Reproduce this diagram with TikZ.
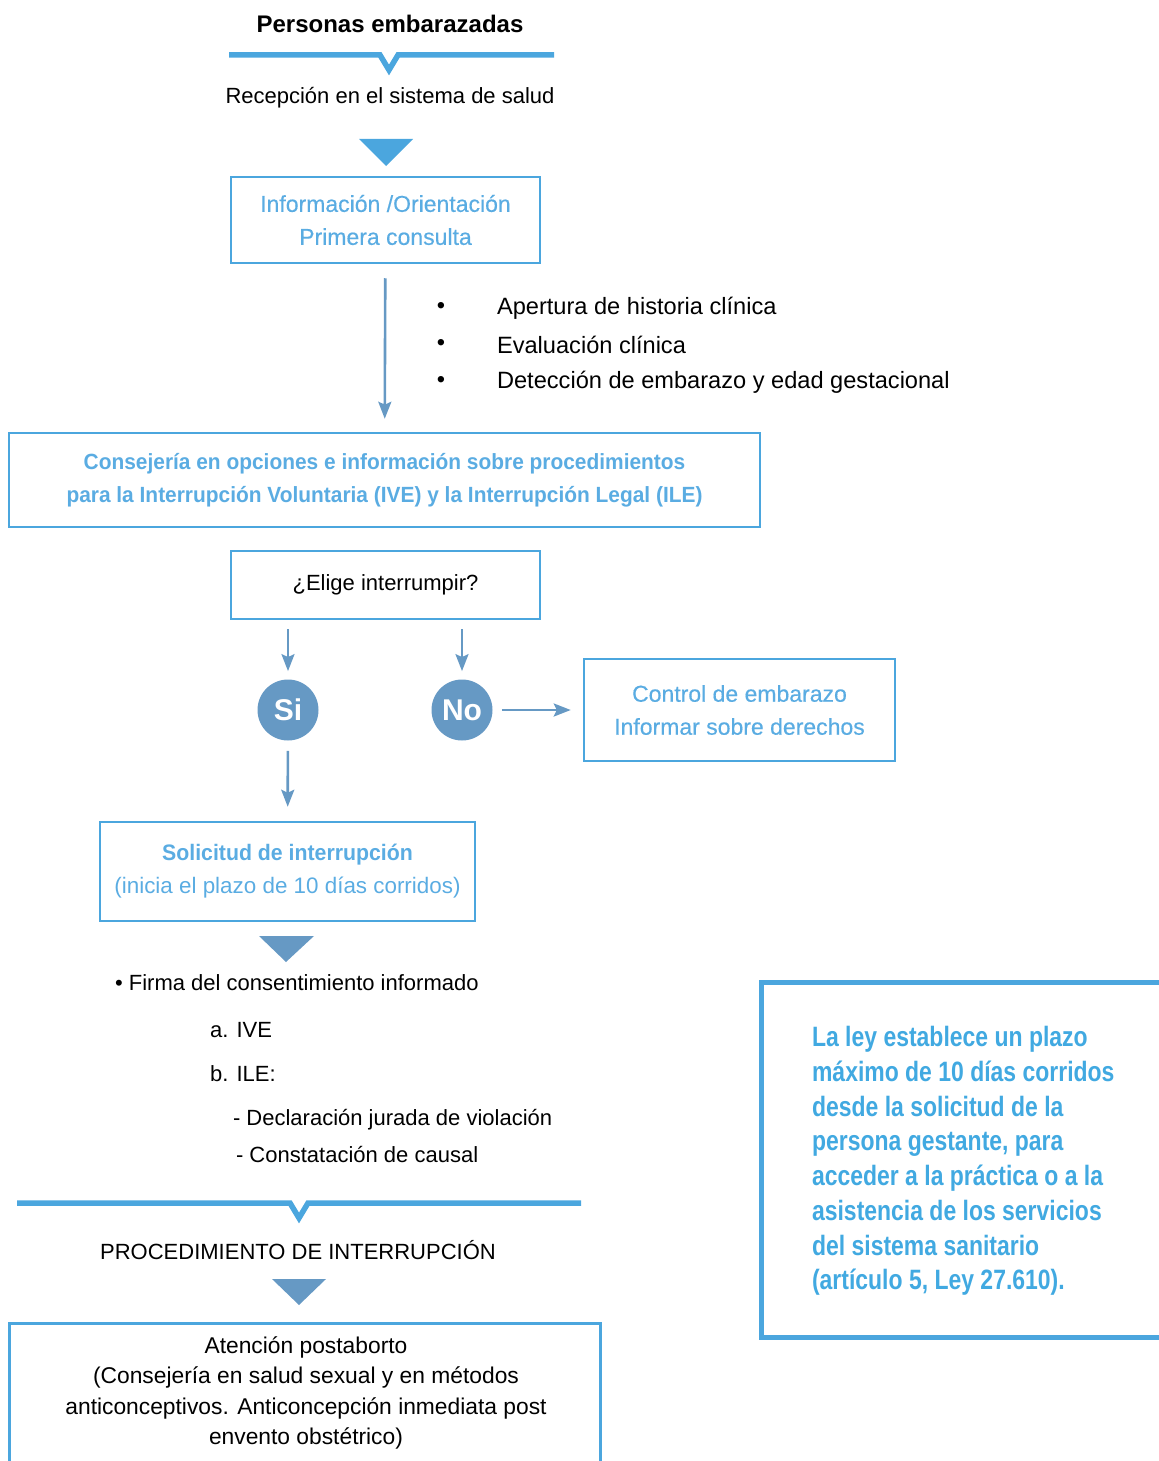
\documentclass[tikz,border=0pt]{standalone}
\usepackage{fontspec}
\setmainfont{Liberation Sans}
\newfontfamily\condbold[FakeStretch=0.82]{Liberation Sans Bold}
\newfontfamily\semibold[FakeStretch=0.95]{Liberation Sans Bold}
\newfontfamily\medium[FakeBold=0.4]{Liberation Sans}
\usepackage{xcolor}
\usepackage{tikz}
\usetikzlibrary{arrows.meta,positioning,calc}

\definecolor{lineblue}{HTML}{4BA6DE}
\definecolor{steel}{HTML}{6699C4}
\definecolor{txtblue}{HTML}{5AACE2}
\definecolor{leyblue}{HTML}{41A9E1}

\tikzset{
  box/.style={draw=lineblue,line width=1.25pt,align=center,inner sep=0pt,
    text=txtblue,font=\medium\fontsize{11.5}{16.5}\selectfont},
  plain/.style={font=\fontsize{11}{15.5}\selectfont},
  list/.style={font=\fontsize{11.8}{15.5}\selectfont},
  flow/.style={draw=steel,line width=1.3pt,-{Stealth[length=8.5pt,width=6.5pt,inset=1.5pt]}},
  answer/.style={circle,fill=steel,minimum size=30.5pt,inner sep=0pt,
    text=white,font=\bfseries\fontsize{15}{15}\selectfont},
  notch/.style={draw=lineblue,line width=2.75pt},
}

\begin{document}
\begin{tikzpicture}[x=0.5pt,y=-0.5pt]
  \useasboundingbox (0,0) rectangle (1159,1461);

  % top of the flow
  \node[font=\bfseries\fontsize{12}{15}\selectfont] (title) at (390,24) {Personas embarazadas};
  \draw[notch] (229,55) -- (380,55) -- (389,70) -- (398,55) -- (554,55);
  \node[plain] (recep) at (390,98) {Recepción en el sistema de salud};
  \fill[lineblue] (359,139) -- (413,139) -- (386,166) -- cycle;

  \node[box,minimum width=154.5pt,minimum height=43pt] (info) at (385.5,220)
    {Información /Orientación\\Primera consulta};

  \node[list,anchor=center] (b1) at (441,308) {•};
  \node[list,anchor=center] (b2) at (441,345) {•};
  \node[list,anchor=center] (b3) at (441,382) {•};
  \node[list,anchor=west] (hist) at (490,308) {Apertura de historia clínica};
  \node[list,anchor=west] (eval) at (490,345) {Evaluación clínica};
  \node[list,anchor=west] (detec) at (490,382) {Detección de embarazo y edad gestacional};

  \node[box,font=\semibold\fontsize{11}{16.5}\selectfont,minimum width=375.5pt,minimum height=47pt]
    (conse) at (384.5,480)
    {Consejería en opciones e información sobre procedimientos\\
     para la Interrupción Voluntaria (IVE) y la Interrupción Legal (ILE)};
  \draw[flow,shorten <=7pt,shorten >=6.5pt] (info) -- (conse);

  % decision
  \node[box,text=black,font=\fontsize{11}{16.5}\selectfont,minimum width=154.5pt,minimum height=34pt]
    (elige) at (385.5,585) {¿Elige interrumpir?};
  \node[answer] (si) at (288,710) {Si};
  \node[answer] (no) at (462,710) {No};
  \draw[flow,shorten <=4.5pt,shorten >=4pt] (elige.south -| si) -- (si);
  \draw[flow,shorten <=4.5pt,shorten >=4pt] (elige.south -| no) -- (no);

  \node[box,minimum width=155.5pt,minimum height=51pt] (control) at (739.5,710)
    {Control de embarazo\\Informar sobre derechos};
  \draw[flow,shorten <=4.5pt,shorten >=6pt] (no) -- (control);

  \node[box,font=\fontsize{11.2}{16.5}\selectfont,minimum width=187.5pt,minimum height=49.5pt]
    (solic) at (287.5,871.5)
    {{\semibold Solicitud de interrupción}\\(inicia el plazo de 10 días corridos)};
  \draw[flow,shorten <=5pt,shorten >=7pt] (si) -- (solic);

  \fill[steel] (259,936) -- (314,936) -- (286,962) -- cycle;

  % consent
  \node[plain,anchor=west] (firma) at (108,983) {• Firma del consentimiento informado};
  \node[plain,anchor=west] (ive) at (203,1030) {a. IVE};
  \node[plain,anchor=west] (ile) at (203,1074) {b. ILE:};
  \node[plain,anchor=west] (decl) at (226,1120) {- Declaración jurada de violación};
  \node[plain,anchor=west] (caus) at (229,1154) {- Constatación de causal};

  \draw[notch] (17,1203) -- (290,1203) -- (299,1218) -- (308,1203) -- (581,1203);
  \node[plain] (proc) at (298,1250) {PROCEDIMIENTO DE INTERRUPCIÓN};
  \fill[steel] (272,1279) -- (326,1279) -- (299,1305) -- cycle;

  % post-abortion care, box open at the bottom
  \draw[draw=lineblue,line width=1.25pt] (9.5,1470) |- (600.5,1323.5) -- (600.5,1470);
  \node[align=center,font=\fontsize{11.4}{15.2}\selectfont] (post) at (306,1393)
    {Atención postaborto\\(Consejería en salud sexual y en métodos\\
     anticonceptivos. Anticoncepción inmediata post\\envento obstétrico)};

  % side note
  \draw[draw=lineblue,line width=2.5pt] (1170,982.5) -- (761.5,982.5) -- (761.5,1337.5) -- (1170,1337.5);
  \node[anchor=west,align=left,text=leyblue,font=\condbold\fontsize{14}{17.35}\selectfont]
    (ley) at (805,1161)
    {La ley establece un plazo\\máximo de 10 días corridos\\desde la solicitud de la\\
     persona gestante, para\\acceder a la práctica o a la\\asistencia de los servicios\\
     del sistema sanitario\\(artículo 5, Ley 27.610).};
\end{tikzpicture}
\end{document}
